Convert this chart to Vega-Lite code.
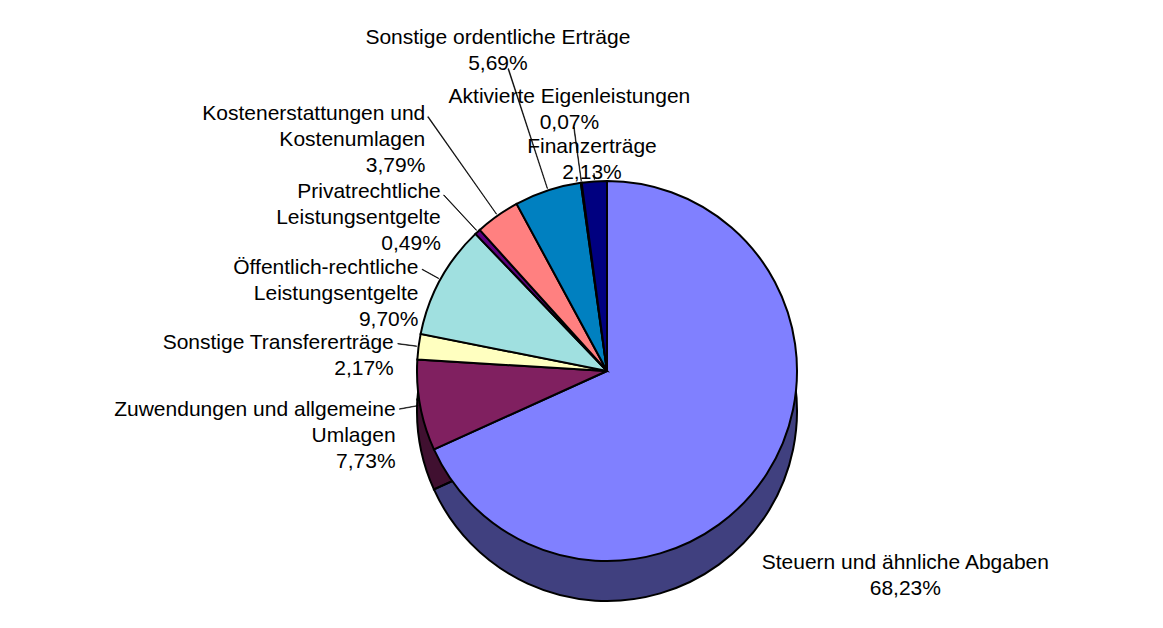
{
  "$schema": "https://vega.github.io/schema/vega-lite/v6.json",
  "width": 1163,
  "height": 628,
  "autosize": {"type": "fit", "contains": "padding"},
  "padding": {"left": 51, "top": 84, "right": 0, "bottom": 0},
  "background": "white",
  "config": {"view": {"stroke": null}},
  "data": {
    "values": [
      {"idx": 1, "name": "Steuern und ähnliche Abgaben", "label": "Steuern und ähnliche Abgaben\n68,23%", "value": 68.23},
      {"idx": 2, "name": "Zuwendungen und allgemeine Umlagen", "label": "Zuwendungen und allgemeine\nUmlagen\n7,73%", "value": 7.73},
      {"idx": 3, "name": "Sonstige Transfererträge", "label": "Sonstige Transfererträge\n2,17%", "value": 2.17},
      {"idx": 4, "name": "Öffentlich-rechtliche Leistungsentgelte", "label": "Öffentlich-rechtliche\nLeistungsentgelte\n9,70%", "value": 9.70},
      {"idx": 5, "name": "Privatrechtliche Leistungsentgelte", "label": "Privatrechtliche\nLeistungsentgelte\n0,49%", "value": 0.49},
      {"idx": 6, "name": "Kostenerstattungen und Kostenumlagen", "label": "Kostenerstattungen und\nKostenumlagen\n3,79%", "value": 3.79},
      {"idx": 7, "name": "Sonstige ordentliche Erträge", "label": "Sonstige ordentliche Erträge\n5,69%", "value": 5.69},
      {"idx": 8, "name": "Aktivierte Eigenleistungen", "label": "Aktivierte Eigenleistungen\n0,07%", "value": 0.07},
      {"idx": 9, "name": "Finanzerträge", "label": "Finanzerträge\n2,13%", "value": 2.13}
    ]
  },
  "layer": [
    {
      "mark": {"type": "arc", "radius": 190, "yOffset": 40, "strokeWidth": 0},
      "encoding": {
        "theta": {"field": "value", "type": "quantitative", "stack": true, "scale": {"domain": [0, 100]}},
        "order": {"field": "idx", "type": "quantitative"},
        "color": {
          "field": "name", "type": "nominal", "legend": null,
          "scale": {
            "domain": ["Steuern und ähnliche Abgaben", "Zuwendungen und allgemeine Umlagen", "Sonstige Transfererträge", "Öffentlich-rechtliche Leistungsentgelte", "Privatrechtliche Leistungsentgelte", "Kostenerstattungen und Kostenumlagen", "Sonstige ordentliche Erträge", "Aktivierte Eigenleistungen", "Finanzerträge"],
            "range": ["#8080FF", "#802060", "#FFFFC0", "#A0E0E0", "#600080", "#FF8080", "#0080C0", "#C0C0FF", "#000080"]
          }
        }
      }
    },
    {
      "mark": {"type": "arc", "radius": 190, "yOffset": 40, "fill": "black", "fillOpacity": 0.5, "stroke": "black", "strokeWidth": 2},
      "encoding": {
        "theta": {"field": "value", "type": "quantitative", "stack": true, "scale": {"domain": [0, 100]}},
        "order": {"field": "idx", "type": "quantitative"}
      }
    },
    {
      "mark": {"type": "arc", "radius": 190, "stroke": "black", "strokeWidth": 2},
      "encoding": {
        "theta": {"field": "value", "type": "quantitative", "stack": true, "scale": {"domain": [0, 100]}},
        "order": {"field": "idx", "type": "quantitative"},
        "color": {"field": "name", "type": "nominal", "legend": null}
      }
    },
    {
      "transform": [
        {"stack": "value", "groupby": [], "sort": [{"field": "idx", "order": "ascending"}], "as": ["v0", "v1"]},
        {"calculate": "(datum.v0 + datum.v1) / 2", "as": "mid"},
        {"calculate": "datum.mid + 0.04", "as": "mid2"}
      ],
      "layer": [
        {"transform": [{"filter": "datum.idx == 1"}], "mark": {"type": "text", "radius": 355, "align": "center", "baseline": "middle", "font": "Liberation Sans", "fontSize": 21, "lineHeight": 26, "lineBreak": "\n", "color": "black"}, "encoding": {"theta": {"field": "mid", "type": "quantitative", "stack": false, "scale": {"domain": [0, 100]}}, "text": {"field": "label"}}},
        {"transform": [{"filter": "datum.idx == 2"}], "mark": {"type": "text", "radius": 215, "align": "right", "baseline": "middle", "font": "Liberation Sans", "fontSize": 21, "lineHeight": 26, "lineBreak": "\n", "color": "black"}, "encoding": {"theta": {"field": "mid", "type": "quantitative", "stack": false, "scale": {"domain": [0, 100]}}, "text": {"field": "label"}}},
        {"transform": [{"filter": "datum.idx == 3"}], "mark": {"type": "text", "radius": 215, "align": "right", "baseline": "middle", "font": "Liberation Sans", "fontSize": 21, "lineHeight": 26, "lineBreak": "\n", "color": "black"}, "encoding": {"theta": {"field": "mid", "type": "quantitative", "stack": false, "scale": {"domain": [0, 100]}}, "text": {"field": "label"}}},
        {"transform": [{"filter": "datum.idx == 4"}], "mark": {"type": "text", "radius": 215, "align": "right", "baseline": "middle", "font": "Liberation Sans", "fontSize": 21, "lineHeight": 26, "lineBreak": "\n", "color": "black"}, "encoding": {"theta": {"field": "mid", "type": "quantitative", "stack": false, "scale": {"domain": [0, 100]}}, "text": {"field": "label"}}},
        {"transform": [{"filter": "datum.idx == 5"}], "mark": {"type": "text", "radius": 244, "align": "right", "baseline": "middle", "font": "Liberation Sans", "fontSize": 21, "lineHeight": 26, "lineBreak": "\n", "color": "black"}, "encoding": {"theta": {"field": "mid", "type": "quantitative", "stack": false, "scale": {"domain": [0, 100]}}, "text": {"field": "label"}}},
        {"transform": [{"filter": "datum.idx == 6"}], "mark": {"type": "text", "radius": 315, "align": "right", "baseline": "middle", "font": "Liberation Sans", "fontSize": 21, "lineHeight": 26, "lineBreak": "\n", "color": "black"}, "encoding": {"theta": {"field": "mid", "type": "quantitative", "stack": false, "scale": {"domain": [0, 100]}}, "text": {"field": "label"}}},
        {"transform": [{"filter": "datum.idx == 7"}], "mark": {"type": "text", "radius": 350, "align": "center", "baseline": "middle", "font": "Liberation Sans", "fontSize": 21, "lineHeight": 26, "lineBreak": "\n", "color": "black"}, "encoding": {"theta": {"field": "mid", "type": "quantitative", "stack": false, "scale": {"domain": [0, 100]}}, "text": {"field": "label"}}},
        {"transform": [{"filter": "datum.idx == 8"}], "mark": {"type": "text", "radius": 277, "align": "center", "baseline": "middle", "font": "Liberation Sans", "fontSize": 21, "lineHeight": 26, "lineBreak": "\n", "color": "black"}, "encoding": {"theta": {"field": "mid", "type": "quantitative", "stack": false, "scale": {"domain": [0, 100]}}, "text": {"field": "label"}}},
        {"transform": [{"filter": "datum.idx == 9"}], "mark": {"type": "text", "radius": 225, "align": "center", "baseline": "middle", "font": "Liberation Sans", "fontSize": 21, "lineHeight": 26, "lineBreak": "\n", "color": "black"}, "encoding": {"theta": {"field": "mid", "type": "quantitative", "stack": false, "scale": {"domain": [0, 100]}}, "text": {"field": "label"}}},
        {"transform": [{"filter": "datum.idx == 2 || datum.idx == 3 || datum.idx == 4"}], "mark": {"type": "arc", "radius": 211, "radius2": 192, "fill": "black", "stroke": "black", "strokeWidth": 0.6}, "encoding": {"theta": {"field": "mid", "type": "quantitative", "stack": false, "scale": {"domain": [0, 100]}}, "theta2": {"field": "mid2"}}},
        {"transform": [{"filter": "datum.idx == 5"}], "mark": {"type": "arc", "radius": 240, "radius2": 192, "fill": "black", "stroke": "black", "strokeWidth": 0.6}, "encoding": {"theta": {"field": "mid", "type": "quantitative", "stack": false, "scale": {"domain": [0, 100]}}, "theta2": {"field": "mid2"}}},
        {"transform": [{"filter": "datum.idx == 6"}], "mark": {"type": "arc", "radius": 311, "radius2": 192, "fill": "black", "stroke": "black", "strokeWidth": 0.6}, "encoding": {"theta": {"field": "mid", "type": "quantitative", "stack": false, "scale": {"domain": [0, 100]}}, "theta2": {"field": "mid2"}}},
        {"transform": [{"filter": "datum.idx == 7"}], "mark": {"type": "arc", "radius": 318, "radius2": 192, "fill": "black", "stroke": "black", "strokeWidth": 0.6}, "encoding": {"theta": {"field": "mid", "type": "quantitative", "stack": false, "scale": {"domain": [0, 100]}}, "theta2": {"field": "mid2"}}},
        {"transform": [{"filter": "datum.idx == 8"}], "mark": {"type": "arc", "radius": 246, "radius2": 192, "fill": "black", "stroke": "black", "strokeWidth": 0.6}, "encoding": {"theta": {"field": "mid", "type": "quantitative", "stack": false, "scale": {"domain": [0, 100]}}, "theta2": {"field": "mid2"}}},
        {"transform": [{"filter": "datum.idx == 9"}], "mark": {"type": "arc", "radius": 198, "radius2": 192, "fill": "black", "stroke": "black", "strokeWidth": 0.6}, "encoding": {"theta": {"field": "mid", "type": "quantitative", "stack": false, "scale": {"domain": [0, 100]}}, "theta2": {"field": "mid2"}}}
      ]
    }
  ]
}
